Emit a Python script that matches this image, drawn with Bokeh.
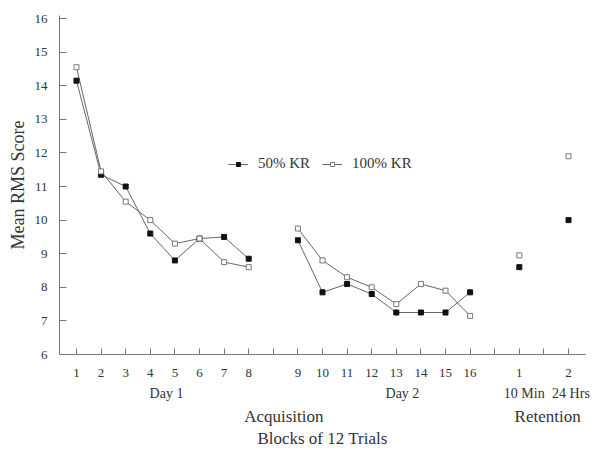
from bokeh.plotting import figure
from bokeh.models import Range1d, FixedTicker, Legend, LegendItem, LinearAxis
from bokeh.embed import file_html
from bokeh.resources import INLINE

# ---- data ----
day1_blocks = [1, 2, 3, 4, 5, 6, 7, 8]
day2_blocks = [9, 10, 11, 12, 13, 14, 15, 16]
retention_tests = [1, 2]
retention_names = ["10 Min", "24 Hrs"]
day_names = ["Day 1", "Day 2"]
phase_names = ["Acquisition", "Retention"]
x_title = "Blocks of 12 Trials"
y_title = "Mean RMS Score"

kr50_day1 = [14.15, 11.35, 11.0, 9.6, 8.8, 9.45, 9.5, 8.85]
kr50_day2 = [9.4, 7.85, 8.1, 7.8, 7.25, 7.25, 7.25, 7.85]
kr50_ret = [8.6, 10.0]

kr100_day1 = [14.55, 11.45, 10.55, 10.0, 9.3, 9.45, 8.75, 8.6]
kr100_day2 = [9.75, 8.8, 8.3, 8.0, 7.5, 8.1, 7.9, 7.15]
kr100_ret = [8.95, 11.9]

y_ticks = [6, 7, 8, 9, 10, 11, 12, 13, 14, 15, 16]

# ---- position mapping along the x axis (gaps between sections) ----
pos_day1 = [b for b in day1_blocks]
pos_day2 = [b + 1 for b in day2_blocks]
pos_ret = [17 + 2 * t for t in retention_tests]

tick_pos = list(range(1, 22))
tick_labels = {i: "" for i in tick_pos}
for b, p_ in zip(day1_blocks, pos_day1):
    tick_labels[p_] = str(b)
for b, p_ in zip(day2_blocks, pos_day2):
    tick_labels[p_] = str(b)
for t, p_ in zip(retention_tests, pos_ret):
    tick_labels[p_] = str(t)

SERIF = "Liberation Serif"
TXT = "#333333"
LINE = "#666666"

p = figure(width=593, height=450, output_backend="svg", toolbar_location=None,
           x_range=Range1d(0.31, 21.69), y_range=Range1d(6, 16.09),
           min_border_left=59, min_border_right=8, min_border_top=15,
           min_border_bottom=95)
p.outline_line_color = None
p.grid.visible = False
p.background_fill_color = "white"
p.border_fill_color = "white"

# axes
p.xaxis.ticker = FixedTicker(ticks=tick_pos)
p.xaxis.major_label_overrides = tick_labels
p.xaxis.minor_tick_line_color = None
p.xaxis.major_tick_in = 6
p.xaxis.major_tick_out = 0
p.xaxis.major_label_standoff = 14
p.yaxis.ticker = FixedTicker(ticks=y_ticks)
p.yaxis.minor_tick_line_color = None
p.yaxis.major_tick_in = 7
p.yaxis.major_tick_out = 0
p.yaxis.major_label_standoff = 12
p.yaxis.axis_label = y_title
p.yaxis.axis_label_standoff = 4
p.yaxis.axis_label_text_font = SERIF
p.yaxis.axis_label_text_font_size = "18px"
p.yaxis.axis_label_text_font_style = "normal"
p.yaxis.axis_label_text_color = TXT
for ax in (p.xaxis, p.yaxis):
    ax.axis_line_color = "#777777"
    ax.major_tick_line_color = "#777777"
    ax.major_label_text_font = SERIF
    ax.major_label_text_font_size = "13px"
    ax.major_label_text_color = TXT


def text_axis(ticks, labels, size, standoff, title=None):
    ax = LinearAxis(ticker=FixedTicker(ticks=ticks),
                    major_label_overrides={t: s for t, s in zip(ticks, labels)},
                    axis_line_color=None, major_tick_line_color=None,
                    minor_tick_line_color=None, major_tick_in=0, major_tick_out=0,
                    major_label_standoff=standoff, major_label_text_font=SERIF,
                    major_label_text_font_size=size, major_label_text_color=TXT)
    if title:
        ax.axis_label = title
        ax.axis_label_text_font = SERIF
        ax.axis_label_text_font_size = size
        ax.axis_label_text_font_style = "normal"
        ax.axis_label_text_color = TXT
        ax.axis_label_standoff = 0
    p.add_layout(ax, "below")


# section labels below the main axis
text_axis([4.66, 14.25, 19.2, 21.1], day_names + retention_names, "14px", 6)
text_axis([9.43, 20.15], phase_names, "17px", 3, title=x_title)

# series
l50a = p.line(pos_day1, kr50_day1, line_color=LINE, line_width=1)
p.line(pos_day2, kr50_day2, line_color=LINE, line_width=1)
l100a = p.line(pos_day1, kr100_day1, line_color=LINE, line_width=1)
p.line(pos_day2, kr100_day2, line_color=LINE, line_width=1)

s50 = p.scatter(pos_day1 + pos_day2 + pos_ret, kr50_day1 + kr50_day2 + kr50_ret,
                marker="square", size=5, fill_color="#111111", line_color="#111111")
s100 = p.scatter(pos_day1 + pos_day2 + pos_ret, kr100_day1 + kr100_day2 + kr100_ret,
                 marker="square", size=5, fill_color="white", line_color="#777777")

legend = Legend(items=[LegendItem(label="50% KR", renderers=[l50a, s50]),
                       LegendItem(label="100% KR", renderers=[l100a, s100])],
                orientation="horizontal", location=(169, 182),
                border_line_color=None, background_fill_alpha=0,
                padding=0, margin=0, spacing=12, glyph_width=20, glyph_height=10,
                label_standoff=10, label_text_font=SERIF,
                label_text_font_size="15px", label_text_color=TXT)
p.add_layout(legend, "center")

open("out.html", "w").write(file_html(p, INLINE))
